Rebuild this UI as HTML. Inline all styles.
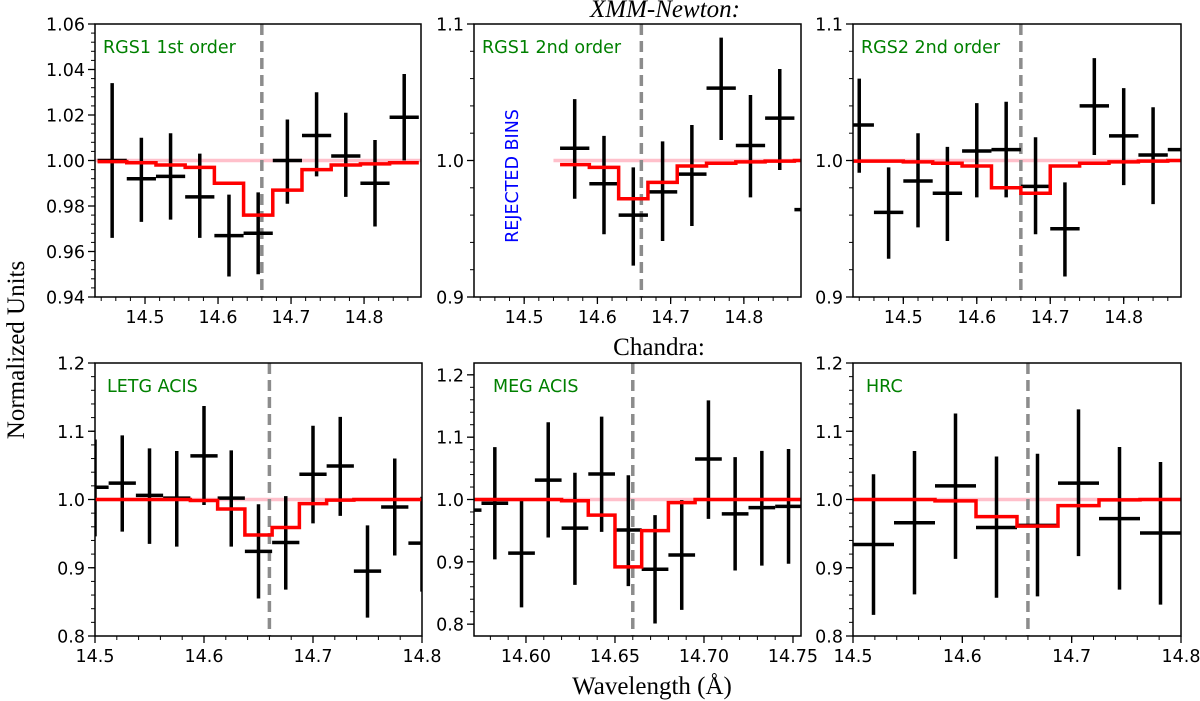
<!DOCTYPE html>
<html><head><meta charset="utf-8">
<style>
html,body{margin:0;padding:0;background:#fff;}
svg{display:block;}
.tick{font-family:"DejaVu Sans","Liberation Sans",sans-serif;font-size:17.5px;fill:#000;}
.lab{font-family:"DejaVu Sans","Liberation Sans",sans-serif;font-size:17.5px;}
.serif{font-family:"Liberation Serif","DejaVu Serif",serif;font-size:25px;fill:#000;}
</style></head>
<body>
<svg id="chart" width="1200" height="701" viewBox="0 0 1200 701" xmlns="http://www.w3.org/2000/svg">
<text class="serif" x="665" y="17" text-anchor="middle" font-style="italic">XMM-Newton:</text>
<text class="serif" x="659" y="355" text-anchor="middle">Chandra:</text>
<text class="serif" x="652" y="694" text-anchor="middle">Wavelength (Å)</text>
<text class="serif" transform="translate(24,350) rotate(-90)" text-anchor="middle">Normalized Units</text>
</svg>
<script>
// ---- data ----
const p1X = [14.455,14.495,14.535,14.575,14.615,14.655,14.695,14.735,14.775,14.815,14.855];
const p1Y = [1.000,0.992,0.993,0.984,0.967,0.968,1.000,1.011,1.002,0.990,1.019];
const p1Lo = [0.966,0.973,0.974,0.966,0.949,0.950,0.981,0.993,0.984,0.971,1.000];
const p1Hi = [1.034,1.010,1.012,1.003,0.985,0.986,1.018,1.030,1.021,1.009,1.038];
const p1M = [0.9995,0.999,0.998,0.997,0.990,0.976,0.987,0.996,0.998,0.9985,0.999];

const p2X = [14.569,14.609,14.649,14.689,14.729,14.769,14.809,14.849,14.889];
const p2Y = [1.009,0.983,0.960,0.977,0.990,1.053,1.011,1.031,0.964];
const p2Lo = [0.972,0.946,0.923,0.941,0.952,1.015,0.973,0.993,0.927];
const p2Hi = [1.045,1.018,0.995,1.014,1.026,1.090,1.048,1.067,1.001];
const p2M = [0.997,0.995,0.972,0.984,0.996,0.998,0.999,0.9995,1.0];

const p3X = [14.44,14.48,14.52,14.56,14.60,14.64,14.68,14.72,14.76,14.80,14.84,14.88];
const p3Y = [1.026,0.962,0.985,0.976,1.007,1.008,0.981,0.950,1.040,1.018,1.004,1.008];
const p3Lo = [0.991,0.928,0.951,0.941,0.973,0.973,0.946,0.915,1.004,0.982,0.968,0.972];
const p3Hi = [1.060,0.995,1.020,1.010,1.042,1.043,1.017,0.984,1.075,1.053,1.039,1.044];
const p3M = [0.9995,0.9995,0.999,0.998,0.996,0.980,0.976,0.996,0.998,0.999,0.9995,1.0];

const p4X = [14.500,14.525,14.550,14.575,14.600,14.625,14.650,14.675,14.700,14.725,14.750,14.775,14.800];
const p4Y = [1.018,1.024,1.006,1.002,1.064,1.002,0.924,0.937,1.037,1.049,0.895,0.989,0.936];
const p4Lo = [0.946,0.953,0.935,0.931,0.992,0.931,0.855,0.868,0.965,0.976,0.827,0.918,0.865];
const p4Hi = [1.088,1.094,1.075,1.071,1.137,1.072,0.993,1.005,1.108,1.121,0.962,1.060,1.004];
const p4M = [1.0,1.0,1.0,1.0,0.9985,0.986,0.948,0.959,0.994,0.999,1.0,1.0,1.0];

const p5X = [14.5675,14.5825,14.5975,14.6125,14.6275,14.6425,14.6575,14.6725,14.6875,14.7025,14.7175,14.7325,14.7475];
const p5Y = [0.983,0.994,0.914,1.031,0.954,1.041,0.951,0.888,0.911,1.065,0.977,0.987,0.989];
const p5Lo = [0.900,0.904,0.827,0.939,0.863,0.948,0.861,0.801,0.823,0.969,0.886,0.894,0.897];
const p5Hi = [1.070,1.084,0.998,1.124,1.043,1.133,1.039,0.975,0.999,1.159,1.068,1.078,1.081];
const p5M = [1.0,1.0,1.0,1.0,0.998,0.975,0.892,0.950,0.995,1.0,1.0,1.0,1.0];

const p6X = [14.51875,14.55625,14.59375,14.63125,14.66875,14.70625,14.74375,14.78125];
const p6Y = [0.934,0.966,1.020,0.959,0.962,1.024,0.972,0.951];
const p6Lo = [0.831,0.861,0.913,0.856,0.858,0.917,0.868,0.846];
const p6Hi = [1.037,1.071,1.126,1.063,1.067,1.132,1.077,1.055];
const p6M = [1.0,1.0,0.998,0.975,0.961,0.991,0.9995,1.0];

const lineCenter = 14.66;
const topXTicks = [14.5,14.6,14.7,14.8];
const p1YTicks = [0.94,0.96,0.98,1.00,1.02,1.04,1.06];
const topYTicks = [0.9,1.0,1.1];
const botXTicks = [14.5,14.6,14.7,14.8];
const megXTicks = [14.60,14.65,14.70,14.75];
const botYTicks = [0.8,0.9,1.0,1.1,1.2];

// ---- drawing ----
const NS = 'http://www.w3.org/2000/svg';
const svg = document.getElementById('chart');
function mk(tag, attrs, parent){
  const e = document.createElementNS(NS, tag);
  for (const k in attrs) e.setAttribute(k, attrs[k]);
  (parent||svg).appendChild(e);
  return e;
}
const panels = [
  {id:'rgs1-1st', bx:95, by:24, bw:326, bh:273, xl:[14.4315,14.878], yl:[0.94,1.06], xt:topXTicks, xm:0.02, yt:p1YTicks, ym:0.004, xd:1, yd:2,
   X:p1X, Y:p1Y, Lo:p1Lo, Hi:p1Hi, M:p1M, h:0.02, pink:14.4315, label:'RGS1 1st order', lx:8},
  {id:'rgs1-2nd', bx:474, by:24, bw:327, bh:273, xl:[14.4315,14.878], yl:[0.9,1.1], xt:topXTicks, xm:0.02, yt:topYTicks, ym:0.02, xd:1, yd:1,
   X:p2X, Y:p2Y, Lo:p2Lo, Hi:p2Hi, M:p2M, h:0.02, pink:14.54, label:'RGS1 2nd order', lx:8},
  {id:'rgs2-2nd', bx:853, by:24, bw:328, bh:273, xl:[14.4315,14.878], yl:[0.9,1.1], xt:topXTicks, xm:0.02, yt:topYTicks, ym:0.02, xd:1, yd:1,
   X:p3X, Y:p3Y, Lo:p3Lo, Hi:p3Hi, M:p3M, h:0.02, pink:14.4315, label:'RGS2 2nd order', lx:8},
  {id:'letg-acis', bx:95, by:363, bw:327, bh:273, xl:[14.5,14.8], yl:[0.8,1.2], xt:botXTicks, xm:0.02, yt:botYTicks, ym:0.02, xd:1, yd:1,
   X:p4X, Y:p4Y, Lo:p4Lo, Hi:p4Hi, M:p4M, h:0.0125, pink:14.5, label:'LETG ACIS', lx:12},
  {id:'meg-acis', bx:474, by:363, bw:327, bh:273, xl:[14.5708,14.7545], yl:[0.781,1.219], xt:megXTicks, xm:0.01, yt:botYTicks, ym:0.02, xd:2, yd:1,
   X:p5X, Y:p5Y, Lo:p5Lo, Hi:p5Hi, M:p5M, h:0.0075, pink:14.5708, label:'MEG ACIS', lx:19},
  {id:'hrc', bx:853, by:363, bw:328, bh:273, xl:[14.5,14.8], yl:[0.8,1.2], xt:botXTicks, xm:0.02, yt:botYTicks, ym:0.02, xd:1, yd:1,
   X:p6X, Y:p6Y, Lo:p6Lo, Hi:p6Hi, M:p6M, h:0.01875, pink:14.5, label:'HRC', lx:13}
];
panels.forEach((p, pi) => {
  const sx = v => p.bx + (v - p.xl[0]) / (p.xl[1] - p.xl[0]) * p.bw;
  const sy = v => p.by + p.bh - (v - p.yl[0]) / (p.yl[1] - p.yl[0]) * p.bh;
  const g = mk('g', {});
  
  
  const clipId = 'clip' + pi;
  const cp = mk('clipPath', {id: clipId}, g);
  mk('rect', {x:p.bx, y:p.by, width:p.bw, height:p.bh}, cp);
  const plot = mk('g', {'clip-path':'url(#' + clipId + ')'}, g);
  
  
  const pink = mk('line', {x1:sx(p.pink), x2:p.bx + p.bw, y1:sy(1), y2:sy(1), stroke:'#ffc0cb', 'stroke-width':3.5}, plot);
  
  
  const dl = mk('line', {x1:sx(lineCenter), x2:sx(lineCenter), y1:p.by, y2:p.by + p.bh, stroke:'#8c8c8c', 'stroke-width':3.5, 'stroke-dasharray':'11,6'}, plot);
  
  
  p.X.forEach((x, i) => {
    const eg = mk('g', {stroke:'#000', 'stroke-width':3.5}, plot);
    
    
    mk('line', {x1:sx(x - p.h), x2:sx(x + p.h), y1:sy(p.Y[i]), y2:sy(p.Y[i])}, eg);
    mk('line', {x1:sx(x), x2:sx(x), y1:sy(p.Lo[i]), y2:sy(p.Hi[i])}, eg);
  });
  let d = '';
  p.X.forEach((x, i) => {
    d += (i === 0 ? 'M' : 'L') + sx(x - p.h) + ',' + sy(p.M[i]) + ' L' + sx(x + p.h) + ',' + sy(p.M[i]) + ' ';
  });
  const mp = mk('path', {d:d, fill:'none', stroke:'#ff0000', 'stroke-width':3.5}, plot);
  
  
  const fr = mk('rect', {x:p.bx, y:p.by, width:p.bw, height:p.bh, fill:'none', stroke:'#000', 'stroke-width':1.5}, g);
  
  
  const xStart = Math.ceil(p.xl[0] / p.xm - 1e-6);
  for (let k = xStart; k * p.xm <= p.xl[1] + 1e-9; k++) {
    const X = sx(k * p.xm);
    mk('line', {x1:X, x2:X, y1:p.by + p.bh, y2:p.by + p.bh + 4, stroke:'#000', 'stroke-width':1}, g);
  }
  p.xt.forEach(v => {
    const X = sx(v);
    mk('line', {x1:X, x2:X, y1:p.by + p.bh, y2:p.by + p.bh + 7, stroke:'#000', 'stroke-width':1.3}, g);
    const t = mk('text', {x:X, y:p.by + p.bh + 26, 'text-anchor':'middle', class:'tick'}, g);
    
    
    t.textContent = v.toFixed(p.xd);
  });
  const yStart = Math.ceil(p.yl[0] / p.ym - 1e-6);
  for (let k = yStart; k * p.ym <= p.yl[1] + 1e-9; k++) {
    const Y = sy(k * p.ym);
    mk('line', {x1:p.bx - 4, x2:p.bx, y1:Y, y2:Y, stroke:'#000', 'stroke-width':1}, g);
  }
  p.yt.forEach(v => {
    const Y = sy(v);
    mk('line', {x1:p.bx - 7, x2:p.bx, y1:Y, y2:Y, stroke:'#000', 'stroke-width':1.3}, g);
    const t = mk('text', {x:p.bx - 10, y:Y + 6.5, 'text-anchor':'end', class:'tick'}, g);
    
    
    t.textContent = v.toFixed(p.yd);
  });
  const lb = mk('text', {x:p.bx + p.lx, y:p.by + 29, class:'lab', fill:'#008000'}, g);
  
  
  lb.textContent = p.label;
});
const rj = mk('text', {transform:'translate(518,176) rotate(-90)', 'text-anchor':'middle', class:'lab', fill:'#0000ff'});


rj.textContent = 'REJECTED BINS';
</script>
</body></html>
